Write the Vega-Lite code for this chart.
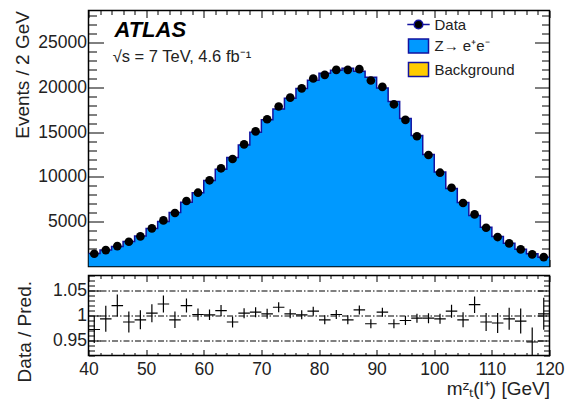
{
  "$schema": "https://vega.github.io/schema/vega-lite/v6.json",
  "background": "white",
  "padding": {"left": 12.5, "top": 5.5, "right": 2, "bottom": 5},
  "spacing": -3,
  "resolve": {"legend": {"color": "independent"}},
  "config": {
    "font": "Liberation Sans",
    "view": {"stroke": "black", "strokeWidth": 1.5},
    "axis": {
      "domain": false, "grid": false,
      "labelFont": "Liberation Sans", "labelFontSize": 17.5, "labelColor": "#222",
      "titleFont": "Liberation Sans", "titleFontSize": 19, "titleFontWeight": "normal", "titleColor": "#222",
      "tickColor": "black", "tickWidth": 1, "labelOverlap": false, "labelFlush": false, "zindex": 1
    }
  },
  "datasets": {
    "bins": [
      {"lo": 40, "hi": 42, "c": 41, "data": 1420, "mc": 1461, "ratio": 0.972, "err": 0.027},
      {"lo": 42, "hi": 44, "c": 43, "data": 1835, "mc": 1847, "ratio": 0.9934, "err": 0.026},
      {"lo": 44, "hi": 46, "c": 45, "data": 2280, "mc": 2236, "ratio": 1.0198, "err": 0.022},
      {"lo": 46, "hi": 48, "c": 47, "data": 2765, "mc": 2801, "ratio": 0.987, "err": 0.021},
      {"lo": 48, "hi": 50, "c": 49, "data": 3365, "mc": 3394, "ratio": 0.9914, "err": 0.019},
      {"lo": 50, "hi": 52, "c": 51, "data": 4260, "mc": 4240, "ratio": 1.0046, "err": 0.018},
      {"lo": 52, "hi": 54, "c": 53, "data": 5150, "mc": 5034, "ratio": 1.023, "err": 0.017},
      {"lo": 54, "hi": 56, "c": 55, "data": 5975, "mc": 6027, "ratio": 0.9914, "err": 0.0165},
      {"lo": 56, "hi": 58, "c": 57, "data": 7315, "mc": 7173, "ratio": 1.0198, "err": 0.014},
      {"lo": 58, "hi": 60, "c": 59, "data": 8245, "mc": 8229, "ratio": 1.002, "err": 0.012},
      {"lo": 60, "hi": 62, "c": 61, "data": 9630, "mc": 9617, "ratio": 1.0013, "err": 0.0105},
      {"lo": 62, "hi": 64, "c": 63, "data": 10970, "mc": 10862, "ratio": 1.0099, "err": 0.011},
      {"lo": 64, "hi": 66, "c": 65, "data": 12010, "mc": 12168, "ratio": 0.987, "err": 0.011},
      {"lo": 66, "hi": 68, "c": 67, "data": 13650, "mc": 13587, "ratio": 1.0046, "err": 0.01},
      {"lo": 68, "hi": 70, "c": 69, "data": 15100, "mc": 15001, "ratio": 1.0066, "err": 0.01},
      {"lo": 70, "hi": 72, "c": 71, "data": 16450, "mc": 16396, "ratio": 1.0033, "err": 0.01},
      {"lo": 72, "hi": 74, "c": 73, "data": 17880, "mc": 17590, "ratio": 1.0165, "err": 0.01},
      {"lo": 74, "hi": 76, "c": 75, "data": 18870, "mc": 18808, "ratio": 1.0033, "err": 0.009},
      {"lo": 76, "hi": 78, "c": 77, "data": 19900, "mc": 19874, "ratio": 1.0013, "err": 0.009},
      {"lo": 78, "hi": 80, "c": 79, "data": 21000, "mc": 20821, "ratio": 1.0086, "err": 0.009},
      {"lo": 80, "hi": 82, "c": 81, "data": 21410, "mc": 21596, "ratio": 0.9914, "err": 0.009},
      {"lo": 82, "hi": 84, "c": 83, "data": 21970, "mc": 21926, "ratio": 1.002, "err": 0.009},
      {"lo": 84, "hi": 86, "c": 85, "data": 21970, "mc": 22161, "ratio": 0.9914, "err": 0.009},
      {"lo": 86, "hi": 88, "c": 87, "data": 22050, "mc": 21806, "ratio": 1.0112, "err": 0.009},
      {"lo": 88, "hi": 90, "c": 89, "data": 20780, "mc": 21129, "ratio": 0.9835, "err": 0.009},
      {"lo": 90, "hi": 92, "c": 91, "data": 20070, "mc": 19938, "ratio": 1.0066, "err": 0.009},
      {"lo": 92, "hi": 94, "c": 93, "data": 18120, "mc": 18424, "ratio": 0.9835, "err": 0.009},
      {"lo": 94, "hi": 96, "c": 95, "data": 16380, "mc": 16545, "ratio": 0.99, "err": 0.009},
      {"lo": 96, "hi": 98, "c": 97, "data": 14550, "mc": 14628, "ratio": 0.9947, "err": 0.009},
      {"lo": 98, "hi": 100, "c": 99, "data": 12460, "mc": 12526, "ratio": 0.9947, "err": 0.01},
      {"lo": 100, "hi": 102, "c": 101, "data": 10480, "mc": 10550, "ratio": 0.9934, "err": 0.01},
      {"lo": 102, "hi": 104, "c": 103, "data": 8800, "mc": 8725, "ratio": 1.0086, "err": 0.013},
      {"lo": 104, "hi": 106, "c": 105, "data": 7090, "mc": 7152, "ratio": 0.9914, "err": 0.015},
      {"lo": 106, "hi": 108, "c": 107, "data": 5830, "mc": 5706, "ratio": 1.0217, "err": 0.0165},
      {"lo": 108, "hi": 110, "c": 109, "data": 4330, "mc": 4387, "ratio": 0.987, "err": 0.018},
      {"lo": 110, "hi": 112, "c": 111, "data": 3290, "mc": 3340, "ratio": 0.985, "err": 0.02},
      {"lo": 112, "hi": 114, "c": 113, "data": 2580, "mc": 2597, "ratio": 0.9934, "err": 0.022},
      {"lo": 114, "hi": 116, "c": 115, "data": 1910, "mc": 1932, "ratio": 0.9888, "err": 0.025},
      {"lo": 116, "hi": 118, "c": 117, "data": 1350, "mc": 1426, "ratio": 0.947, "err": 0.029},
      {"lo": 118, "hi": 120, "c": 119, "data": 1050, "mc": 1047, "ratio": 1.0033, "err": 0.032}
    ]
  },
  "vconcat": [
    {
      "width": 461,
      "height": 256,
      "data": {"name": "bins"},
      "resolve": {"axis": {"x": "independent", "y": "independent"}},
      "layer": [
        {
          "transform": [{"fold": ["lo", "hi"], "as": ["edge", "xe"]}],
          "mark": {"type": "area", "clip": true},
          "encoding": {
            "x": {"field": "xe", "type": "quantitative",
              "scale": {"domain": [40, 120], "nice": false, "zero": false},
              "axis": {"orient": "bottom", "title": null, "labels": false,
                "values": [40,42,44,46,48,50,52,54,56,58,60,62,64,66,68,70,72,74,76,78,80,82,84,86,88,90,92,94,96,98,100,102,104,106,108,110,112,114,116,118,120],
                "tickSize": {"condition": {"test": "datum.value % 10 === 0", "value": -7}, "value": -4}}},
            "y": {"field": "mc", "type": "quantitative", "stack": null,
              "scale": {"domain": [0, 28600], "nice": false, "zero": false},
              "axis": {"orient": "left", "title": "Events / 2 GeV", "format": "d",
                "values": [1000,2000,3000,4000,5000,6000,7000,8000,9000,10000,11000,12000,13000,14000,15000,16000,17000,18000,19000,20000,21000,22000,23000,24000,25000,26000,27000,28000],
                "labelExpr": "datum.value % 5000 === 0 ? datum.label : ''",
                "tickSize": {"condition": {"test": "datum.value % 5000 === 0", "value": -15}, "value": -8},
                "labelPadding": 17,
                "titleX": -60, "titleY": 0, "titleAlign": "right", "titleBaseline": "alphabetic", "titleAngle": -90}},
            "color": {"datum": "Z→ e⁺e⁻", "type": "nominal",
              "scale": {"domain": ["Data", "Z→ e⁺e⁻", "Background"], "range": ["black", "#0099ff", "#ffcc00"]},
              "legend": {"orient": "none", "legendX": 322, "legendY": 6, "title": null,
                "labelFont": "Liberation Sans", "labelFontSize": 15, "labelColor": "#222",
                "symbolSize": 196, "labelOffset": 8, "rowPadding": 3.5, "padding": 0,
                "encode": {"symbols": {"update": {
                  "shape": {"signal": "datum.value === 'Data' ? 'M-1.6,0H-0.62M0.62,0H1.6M-0.62,0A0.62,0.62 0 1,0 0.62,0A0.62,0.62 0 1,0 -0.62,0Z' : 'M-1.43,-1H1.43V1H-1.43Z'"},
                  "stroke": {"value": "#1212a0"}, "strokeWidth": {"value": 1.5}, "opacity": {"value": 1}, "fillOpacity": {"value": 1}}}}}}
          }
        },
        {
          "transform": [{"fold": ["lo", "hi"], "as": ["edge", "xe"]}],
          "mark": {"type": "line", "color": "#1212a0", "strokeWidth": 1.5, "clip": true},
          "encoding": {
            "x": {"field": "xe", "type": "quantitative",
              "axis": {"orient": "top", "title": null, "labels": false,
                "values": [40,42,44,46,48,50,52,54,56,58,60,62,64,66,68,70,72,74,76,78,80,82,84,86,88,90,92,94,96,98,100,102,104,106,108,110,112,114,116,118,120],
                "tickSize": {"condition": {"test": "datum.value % 10 === 0", "value": -7}, "value": -4}}},
            "y": {"field": "mc", "type": "quantitative",
              "axis": {"orient": "right", "title": null, "labels": false,
                "values": [1000,2000,3000,4000,5000,6000,7000,8000,9000,10000,11000,12000,13000,14000,15000,16000,17000,18000,19000,20000,21000,22000,23000,24000,25000,26000,27000,28000],
                "tickSize": {"condition": {"test": "datum.value % 5000 === 0", "value": -15}, "value": -8}}}
          }
        },
        {
          "mark": {"type": "point", "filled": true, "size": 75, "opacity": 1},
          "encoding": {
            "x": {"field": "c", "type": "quantitative", "axis": null},
            "y": {"field": "data", "type": "quantitative", "axis": null},
            "color": {"datum": "Data", "type": "nominal"}
          }
        },
        {
          "data": {"values": [{}]},
          "mark": {"type": "text", "text": "ATLAS", "font": "Liberation Sans", "fontSize": 22, "fontWeight": "bold", "fontStyle": "italic", "align": "left", "baseline": "alphabetic", "color": "black"},
          "encoding": {
            "x": {"datum": 44.5, "type": "quantitative", "axis": null},
            "y": {"datum": 25600, "type": "quantitative", "axis": null}
          }
        },
        {
          "data": {"values": [{}]},
          "mark": {"type": "text", "text": "√s = 7 TeV, 4.6 fb⁻¹", "font": "Liberation Sans", "fontSize": 16.5, "align": "left", "baseline": "alphabetic", "color": "#222"},
          "encoding": {
            "x": {"datum": 44.2, "type": "quantitative", "axis": null},
            "y": {"datum": 22800, "type": "quantitative", "axis": null}
          }
        }
      ]
    },
    {
      "width": 461,
      "height": 80,
      "data": {"name": "bins"},
      "resolve": {"axis": {"x": "independent", "y": "independent"}},
      "layer": [
        {
          "mark": {"type": "rule", "color": "black", "strokeWidth": 1.2, "clip": true},
          "encoding": {
            "x": {"field": "lo", "type": "quantitative",
              "scale": {"domain": [40, 120], "nice": false, "zero": false},
              "axis": {"orient": "bottom", "title": "mᶻₜ(l⁺) [GeV]",
                "values": [40,42,44,46,48,50,52,54,56,58,60,62,64,66,68,70,72,74,76,78,80,82,84,86,88,90,92,94,96,98,100,102,104,106,108,110,112,114,116,118,120],
                "labelExpr": "datum.value % 10 === 0 ? datum.label : ''",
                "tickSize": {"condition": {"test": "datum.value % 10 === 0", "value": -6}, "value": -3},
                "labelPadding": 10.5,
                "titleX": 461, "titleY": 38.5, "titleAlign": "right", "titleBaseline": "alphabetic"}},
            "x2": {"field": "hi"},
            "y": {"field": "ratio", "type": "quantitative",
              "scale": {"domain": [0.92, 1.08], "nice": false, "zero": false},
              "axis": {"orient": "left", "title": "Data / Pred.", "format": "~g",
                "values": [0.92,0.93,0.94,0.95,0.96,0.97,0.98,0.99,1,1.01,1.02,1.03,1.04,1.05,1.06,1.07,1.08],
                "labelExpr": "round(datum.value*100) % 5 === 0 ? datum.label : ''",
                "tickSize": {"condition": {"test": "round(datum.value*100) % 5 === 0", "value": -12}, "value": -6},
                "labelPadding": 14,
                "grid": true, "gridColor": "black", "gridWidth": 1, "gridDash": [6, 2, 1.5, 2],
                "gridOpacity": {"condition": {"test": "round(datum.value*100) % 5 === 0", "value": 1}, "value": 0},
                "titleX": -58, "titleY": 5, "titleAlign": "right", "titleBaseline": "alphabetic", "titleAngle": -90}}
          }
        },
        {
          "mark": {"type": "errorbar", "ticks": false, "color": "black", "thickness": 1.2, "clip": true},
          "encoding": {
            "x": {"field": "c", "type": "quantitative",
              "axis": {"orient": "top", "title": null, "labels": false,
                "values": [40,42,44,46,48,50,52,54,56,58,60,62,64,66,68,70,72,74,76,78,80,82,84,86,88,90,92,94,96,98,100,102,104,106,108,110,112,114,116,118,120],
                "tickSize": {"condition": {"test": "datum.value % 10 === 0", "value": -6}, "value": -3}}},
            "y": {"field": "ratio", "type": "quantitative",
              "axis": {"orient": "right", "title": null, "labels": false,
                "values": [0.92,0.93,0.94,0.95,0.96,0.97,0.98,0.99,1,1.01,1.02,1.03,1.04,1.05,1.06,1.07,1.08],
                "tickSize": {"condition": {"test": "round(datum.value*100) % 5 === 0", "value": -12}, "value": -6}}},
            "yError": {"field": "err"}
          }
        }
      ]
    }
  ]
}
